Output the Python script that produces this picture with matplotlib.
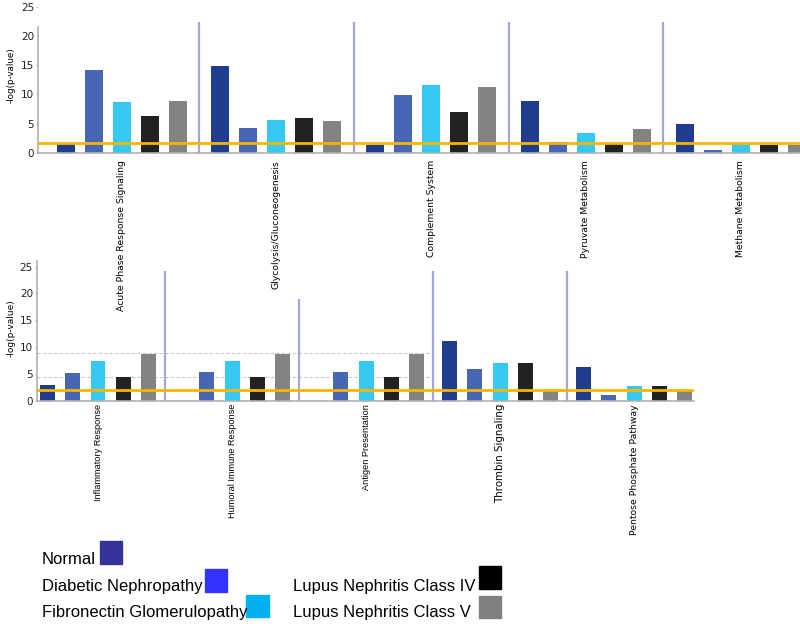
import numpy as np
import matplotlib
matplotlib.use('Agg')
import matplotlib.pyplot as plt
from matplotlib import font_manager
from matplotlib.patches import Rectangle

# conditions, in the order the bars appear inside every pathway group
conditions = ['Normal', 'Diabetic Nephropathy', 'Fibronectin Glomerulopathy',
              'Lupus Nephritis Class IV', 'Lupus Nephritis Class V']

# upper chart
top_pathways = ['Acute Phase Response Signaling', 'Glycolysis/Gluconeogenesis',
                'Complement System', 'Pyruvate Metabolism', 'Methane Metabolism']
top_normal = [1.5, 14.85, 1.3, 8.85, 4.9]
top_diabetic = [14.2, 4.2, 9.8, 1.8, 0.4]
top_fibronectin = [8.6, 5.6, 11.6, 3.4, 1.5]
top_lupus_iv = [6.3, 5.9, 7.0, 1.5, 1.4]
top_lupus_v = [8.9, 5.4, 11.25, 4.0, 1.4]
top_threshold = 1.6
top_separators = [22.3, 22.3, 22.3, 22.3]

# lower chart (no Normal bar for two pathways)
bot_pathways = ['Inflammatory Response', 'Humoral Immune Response',
                'Antigen Presentation', 'Thrombin Signaling',
                'Pentose Phosphate Pathway']
bot_normal = [2.9, None, None, 11.1, 6.35]
bot_diabetic = [5.2, 5.3, 5.3, 6.0, 1.0]
bot_fibronectin = [7.4, 7.4, 7.4, 7.0, 2.75]
bot_lupus_iv = [4.4, 4.5, 4.5, 7.0, 2.7]
bot_lupus_v = [8.8, 8.8, 8.7, 1.8, 1.8]
bot_threshold = 1.95
bot_separators = [24.2, 19.0, 24.2, 24.2]
bot_refs = [8.95, 4.5]

yticks = [0, 5, 10, 15, 20, 25]

bar_colors = ['#1f3c8f', '#4767b5', '#35c8f2', '#222222', '#838383']
legend_colors = ['#333399', '#3333ff', '#00b0f0', '#000000', '#808080']
sep_color = '#a3a3e0'
thresh_color = '#f7b500'
axis_color = '#b0b0b0'

W, H = 800, 624
fig = plt.figure(figsize=(W / 100, H / 100), dpi=100)


def px_box(left, top, right, bottom):
    return [left / W, 1 - bottom / H, (right - left) / W, (bottom - top) / H]


def draw_panel(ax, series, labels, group_pitch, bar_w, sep_tops, thresh):
    base = np.arange(len(labels)) * group_pitch
    for i, (vals, col) in enumerate(zip(series, bar_colors)):
        vals = np.array([np.nan if v is None else v for v in vals], dtype=float)
        ok = ~np.isnan(vals)
        ax.bar(base[ok] + i, vals[ok], width=bar_w, color=col, zorder=2)
    seps = base[:-1] + (4 + group_pitch) / 2
    ax.vlines(seps, 0, sep_tops, color=sep_color, lw=1.6, zorder=3)
    ax.axhline(thresh, color=thresh_color, lw=2, zorder=4)
    ax.set_xticks(base + 2)
    ax.set_xticklabels(labels, rotation=90, va='top', ha='center')
    ax.set_yticks(yticks)
    ax.set_ylim(0, 26)
    for s in ['top', 'right']:
        ax.spines[s].set_visible(False)
    for s in ['left', 'bottom']:
        ax.spines[s].set_color(axis_color)
        ax.spines[s].set_linewidth(1.2)
    ax.tick_params(axis='y', length=1.5, width=0.6, color=axis_color, pad=1.2,
                   labelsize=7.5, labelcolor='#222222')
    return seps


# ---- upper chart
ax1 = fig.add_axes(px_box(38, 152.7 - 26 * 5.84, 800, 152.7))
draw_panel(ax1, [top_normal, top_diabetic, top_fibronectin, top_lupus_iv, top_lupus_v],
           top_pathways, 5.527, 0.64, top_separators, top_threshold)
ax1.set_xlim(-0.989, 26.225)
ax1.spines['left'].set_bounds(0, 21.6)
ax1.tick_params(axis='x', length=0, pad=5.3, labelsize=6.7)
fig.text(11.5 / W, 1 - 75.5 / H, '-log(p-value)', rotation=90, ha='center',
         va='center', fontsize=6.3)

# ---- lower chart
ax2 = fig.add_axes(px_box(36.7, 400.7 - 26 * 5.36, 694, 400.7))
ax2.patch.set_visible(False)
seps2 = draw_panel(ax2, [bot_normal, bot_diabetic, bot_fibronectin, bot_lupus_iv, bot_lupus_v],
                   bot_pathways, 5.276, 0.59, bot_separators, bot_threshold)
ax2.set_xlim(-0.413, 25.46)
ax2.hlines(bot_refs, -0.413, seps2[2], colors='#c8c8c8', linestyles=(0, (3, 2)),
           lw=0.8, zorder=1)
ax2.tick_params(axis='x', length=0, pad=2.4)
label_style = [('Liberation Sans', 6.6), ('Liberation Sans', 6.6), ('Liberation Sans', 6.6),
               ('DejaVu Sans', 7.4), ('DejaVu Sans', 6.7)]
for lab, (fam, size) in zip(ax2.get_xticklabels(), label_style):
    lab.set_family(fam)
    lab.set_fontsize(size)
fig.text(11 / W, 1 - 328.5 / H, '-log(p-value)', rotation=90, ha='center',
         va='center', fontsize=6.5)

# ---- legend, text followed by a colour square
names = {f.name for f in font_manager.fontManager.ttflist}
if 'Liberation Sans Narrow' in names:
    leg_font, leg_size = 'Liberation Sans Narrow', 14.7
else:
    leg_font, leg_size = 'Liberation Sans', 12.0

legend_text = [(42, 564), (42, 591), (42, 617), (293, 591), (293, 617)]
legend_box = [(100, 541, 122, 564), (205, 569, 227, 592), (246, 595, 269, 617),
              (479, 566, 501, 589), (479, 596, 501, 618)]
for name, col, (tx, ty), (l, t, r, b) in zip(conditions, legend_colors,
                                              legend_text, legend_box):
    fig.text(tx / W, 1 - ty / H, name, family=leg_font, fontsize=leg_size,
             va='baseline', ha='left')
    fig.patches.append(Rectangle((l / W, 1 - b / H), (r - l) / W, (b - t) / H,
                                 transform=fig.transFigure, color=col))

fig.savefig('out.png', dpi=100)
